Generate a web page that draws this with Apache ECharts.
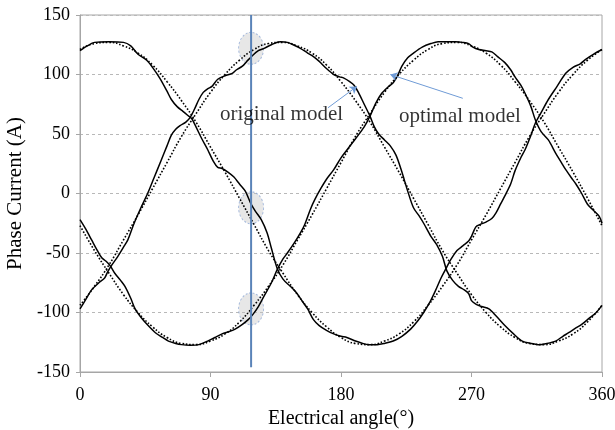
<!DOCTYPE html>
<html>
<head>
<meta charset="utf-8">
<script src="https://cdn.jsdelivr.net/npm/echarts@6/dist/echarts.min.js"></script>
<style>
  html, body { margin: 0; background: #fff; }
  #chart { width: 615px; height: 430px; }
</style>
</head>
<body>
<div id="chart"></div>
<script>
const font = "'Liberation Serif', 'Times New Roman', serif"

// optimal model, sampled every 10 deg
const optimalAngles = [0,10,20,30,40,50,60,70,80,90,100,110,120,130,140,150,160,170,180,
  190,200,210,220,230,240,250,260,270,280,290,300,310,320,330,340,350,360]
const optimalA = [121,126,127,124,118,108,94,78,60,39,18,-4,-26,-48,-67,-85,-100,-112,-121,
  -126,-127,-124,-118,-108,-94,-78,-60,-39,-18,4,26,48,67,85,100,112,121]
const optimalB = [-94,-78,-60,-39,-18,4,26,48,67,85,100,112,121,126,127,124,118,108,94,
  78,60,39,18,-4,-26,-48,-67,-85,-100,-112,-121,-126,-127,-124,-118,-108,-94]
const optimalC = [-27,-48,-67,-85,-100,-112,-121,-126,-127,-124,-118,-108,-94,-78,-60,-39,-18,4,26,
  48,67,85,100,112,121,126,127,124,118,108,94,78,60,39,18,-4,-27]

// original model, [angle, current]
const originalA = [[0,120],[5,124],[10,127],[20,127.5],[30,127],[35,124],[40,117],[46,112],[50,106],
  [55,97],[60,86],[63,79],[67,73],[71,69],[74,66],[77,63],[80,56],[84,46],[88,37],[92,27],[95,22],
  [98,21],[102,18],[106,14],[110,8],[114,2],[118,-9],[121,-15],[125,-22],[129,-33],[132,-46],
  [136,-63],[140,-72],[145,-78],[149,-83],[153,-90],[157,-97],[161,-106],[165,-111],[170,-115],
  [175,-118],[180,-120],[184,-121],[190,-124],[195,-126],[199,-127],[205,-127],[210,-126],
  [216,-124],[222,-120],[228,-114],[233,-107],[237,-100],[241,-92],[245,-82],[249,-71],[252,-64],
  [256,-55],[260,-48],[264,-44],[268,-40],[270,-36],[273,-28],[276,-26],[280,-24],[284,-21],
  [287,-16],[290,-9],[293,-2],[297,8],[300,19],[304,30],[307,37],[311,49],[314,59],[318,68],
  [323,79],[329,90],[335,101],[340,106],[345,109],[349,113],[354,117],[360,121]]
const originalB = [[0,-97],[4,-89],[8,-81],[13,-75],[17,-71],[19,-66],[22,-60],[26,-53],[30,-45],
  [33,-39],[37,-26],[42,-12],[47,1],[51,13],[56,28],[60,40],[63,49],[66,54],[69,57],[73,60],
  [76,64],[79,71],[82,79],[85,85],[88,88],[91,90],[95,96],[100,99],[105,101],[108,104],[112,107],
  [115,111],[119,116],[123,120],[127,122],[132,125],[138,127.5],[143,127],[147,125],[152,122],
  [157,118],[161,115],[165,111],[170,105],[175,100],[179,98],[182,97],[186,94],[189,91],[192,85],
  [196,75],[200,65],[203,56],[206,50],[210,45],[214,40],[218,32],[222,18],[226,2],[230,-12],
  [234,-19],[237,-25],[242,-36],[246,-43],[250,-53],[253,-65],[257,-73],[261,-78],[265,-81],
  [268,-84],[270,-90],[273,-93],[277,-95],[282,-97],[287,-103],[293,-111],[299,-118],[305,-124],
  [311,-126],[316,-127],[322,-126],[328,-124],[333,-120],[337,-117],[342,-113],[346,-110],
  [351,-105],[356,-100],[360,-94]]
const originalC = [[0,-22],[4,-30],[8,-39],[12,-48],[15,-54],[18,-57],[21,-61],[24,-67],[28,-73],
  [31,-78],[35,-88],[38,-97],[42,-104],[47,-111],[52,-117],[57,-121],[61,-124],[66,-126],
  [70,-127],[76,-127.5],[82,-127],[88,-124],[93,-121],[98,-118],[103,-116],[107,-114],[112,-110],
  [116,-106],[119,-102],[123,-95],[127,-86],[132,-75],[136,-64],[140,-55],[143,-50],[148,-41],
  [152,-33],[155,-26],[159,-13],[162,-5],[166,4],[170,12],[175,20],[180,30],[185,38],[190,46],
  [196,56],[200,65],[204,76],[208,84],[212,89],[216,93],[219,99],[222,107],[226,114],[230,118],
  [236,123],[242,126],[247,127.5],[253,127.5],[259,127.5],[264,127],[268,126],[271,123],[275,121],
  [280,120],[284,119],[288,115],[293,110],[297,104],[300,98],[304,91],[307,84],[311,73],[314,62],
  [318,52],[323,45],[328,34],[332,26],[335,20],[339,13],[342,8],[346,0],[350,-9],[354,-14],
  [358,-19],[360,-25]]

const cursorAngle = 118
const cursorSpan = [150, -146]
const highlights = [[118, 122], [118, -12], [118, -97]]
const notes = [['original model', 139, 66], ['optimal model', 262, 65]]
const arrows = [[[171, 72], [191, 90]], [[264, 80], [214, 100]]]

const axisGray = '#a6a6a6'

let dotted = data => ({
  type: 'line',
  data: optimalAngles.map((a, i) => [a, data[i]]),
  smooth: true,
  showSymbol: false,
  z: 2,
  lineStyle: { color: '#000', width: 1.6, type: [1.6, 1.8] }
})

let solid = data => ({
  type: 'line',
  data: data,
  smooth: 0.3,
  showSymbol: false,
  z: 3,
  lineStyle: { color: '#000', width: 1.5 }
})

let option = {
  animation: false,
  grid: {
    left: 80, right: 13, top: 15, bottom: 58,
    outerBoundsMode: 'none',
    show: true, borderColor: axisGray, borderWidth: 1
  },
  xAxis: {
    type: 'value',
    min: 0, max: 360, interval: 90,
    name: 'Electrical angle(°)',
    nameLocation: 'middle',
    nameGap: 31,
    nameTextStyle: { color: '#000', fontSize: 20, fontFamily: font },
    axisLine: { onZero: false, lineStyle: { color: axisGray } },
    axisTick: { length: 5, lineStyle: { color: axisGray } },
    axisLabel: { color: '#000', fontSize: 18, fontFamily: font, margin: 14 },
    splitLine: { show: false }
  },
  yAxis: {
    type: 'value',
    min: -150, max: 150, interval: 50,
    name: 'Phase Current (A)',
    nameLocation: 'middle',
    nameGap: 47,
    nameTextStyle: { color: '#000', fontSize: 21, fontFamily: font },
    axisLine: { show: true, lineStyle: { color: axisGray } },
    axisTick: { show: true, length: 4, lineStyle: { color: axisGray } },
    axisLabel: { color: '#000', fontSize: 18, fontFamily: font, margin: 10 },
    splitLine: { lineStyle: { color: '#b8b8b8', type: [3, 3] } }
  },
  series: [
    {
      type: 'scatter',
      data: highlights,
      symbol: 'circle',
      symbolSize: [25, 32],
      z: 1,
      itemStyle: {
        color: 'rgba(195,195,195,0.5)',
        borderColor: '#8fa9d6',
        borderWidth: 1,
        borderType: [2, 2]
      }
    },
    dotted(optimalA), dotted(optimalB), dotted(optimalC),
    solid(originalA), solid(originalB), solid(originalC),
    {
      type: 'line',
      data: cursorSpan.map(v => [cursorAngle, v]),
      showSymbol: false,
      z: 4,
      lineStyle: { color: '#5a83b8', width: 2 }
    },
    {
      type: 'lines',
      coordinateSystem: 'cartesian2d',
      data: arrows.map(c => ({ coords: c })),
      symbol: ['none', 'arrow'],
      symbolSize: 7,
      z: 4,
      lineStyle: { color: '#6f9bd6', width: 1, opacity: 1 }
    },
    {
      type: 'scatter',
      data: notes.map(n => [n[1], n[2], n[0]]),
      symbolSize: 1,
      z: 5,
      itemStyle: { color: 'rgba(0,0,0,0)' },
      label: {
        show: true,
        position: 'inside',
        formatter: p => p.data[2],
        color: '#000',
        fontSize: 21,
        fontFamily: font
      }
    }
  ]
}

let chart = echarts.init(document.getElementById('chart'))
chart.setOption(option)
</script>
</body>
</html>
